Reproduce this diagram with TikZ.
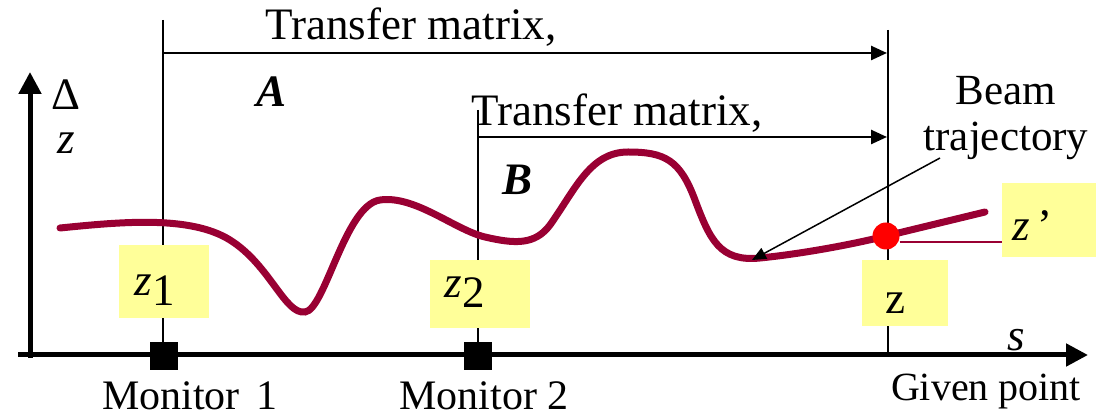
\documentclass[tikz,border=0pt]{standalone}
\usepackage{fontspec}
\setmainfont{Liberation Serif}
\usetikzlibrary{arrows.meta}
\definecolor{traj}{HTML}{990033}
\definecolor{lab}{HTML}{FFFF99}
\tikzset{
  axis/.style={line width=5pt,-{Triangle[length=22pt,width=22pt]}},
  guide/.style={line width=1.2pt},
  marr/.style={line width=2.5pt,-{Triangle[length=16pt,width=14pt]}},
  txt/.style={font=\fontsize{45}{48}\selectfont,inner sep=0pt},
  btxt/.style={font=\fontsize{43}{46}\selectfont,inner sep=0pt},
  stxt/.style={font=\fontsize{42}{46}\selectfont,inner sep=0pt},
  mon/.style={fill=black,minimum size=28pt,inner sep=0pt},
}
\begin{document}
\begin{tikzpicture}[x=1pt,y=-1pt]
\useasboundingbox (0,0) rectangle (1096,419);
% guide lines
\coordinate (m1t) at (163,20);
\coordinate (m1b) at (163,355);
\coordinate (m2t) at (478,110);
\coordinate (m2b) at (478,355);
\coordinate (gt) at (888,30);
\coordinate (gb) at (888,355);
\draw[guide] (m1t) -- (m1b);
\draw[guide] (m2t) -- (m2b);
\draw[guide] (gt) -- (gb);
% yellow boxes
\fill[lab] (119,245) rectangle (209,318);
\fill[lab] (430,260) rectangle (530,328);
\fill[lab] (862,260) rectangle (948,326);
\fill[lab] (1002,183) rectangle (1096,257);
% axes
\coordinate (yt) at (30,72);
\coordinate (yb) at (30,358);
\coordinate (xl) at (18,355);
\coordinate (xr) at (1088,355);
\draw[axis] (yb) -- (yt);
\draw[axis] (xl) -- (xr);
% monitors
\node[mon] (mon1) at (164,356) {};
\node[mon] (mon2) at (478,356) {};
% transfer arrows
\coordinate (a1) at (163,53);
\coordinate (a2) at (887,53);
\coordinate (b1) at (478,137);
\coordinate (b2) at (887,137);
\draw[marr] (a1) -- (a2);
\draw[marr] (b1) -- (b2);
\node[txt] (tA) at (411,27) {Transfer matrix,};
\node[txt] (A) at (272,92) {\textbf{\textit{A}}};
\node[txt] (tB) at (617,113) {Transfer matrix,};
\node[txt] (B) at (518,180) {\textbf{\textit{B}}};
% trajectory
\draw[traj,line width=7pt,line cap=round]
 (60,228) .. controls (120,222) and (190,215) .. (230,240)
 .. controls (270,265) and (285,315) .. (305,312)
 .. controls (325,310) and (345,205) .. (380,200)
 .. controls (415,195) and (455,230) .. (485,237)
 .. controls (515,244) and (535,245) .. (550,225)
 .. controls (575,190) and (590,152) .. (628,152)
 .. controls (665,152) and (680,160) .. (695,200)
 .. controls (710,240) and (720,262) .. (760,258)
 .. controls (800,254) and (850,245) .. (886,236)
 -- (985,212);
% red dot and thin line to z'
\node[circle,fill=red,minimum size=27pt,inner sep=0pt] (dot) at (886,236) {};
\coordinate (zpl) at (1002,242);
\draw[traj,line width=1.2pt] (dot.east |- zpl) -- (zpl);
% beam trajectory label and arrow
\node[btxt,align=center] (bt) at (1006,118) {Beam\\trajectory};
\coordinate (bts) at (940,158);
\coordinate (bte) at (752,260);
\draw[line width=1.5pt,-{Triangle[length=14pt,width=12pt]}] (bts) -- (bte);
% labels
\node[txt] (del) at (66,95) {Δ};
\node[txt] (zax) at (66,143) {\textit{z}};
\node[txt] (z1) at (155,290) {\textit{z}\raisebox{-10pt}{1}};
\node[txt] (z2) at (465,292) {\textit{z}\raisebox{-10pt}{2}};
\node[txt] (zg) at (895,303) {z};
\node[txt] (zp) at (1032,226) {\textit{z}\,’};
\node[txt] (s) at (1016,340) {\textit{s}};
\node[stxt] (l1) at (190,396) {Monitor\hspace{0.4em}1};
\node[stxt] (l2) at (484,396) {Monitor 2};
\node[font=\fontsize{40}{44}\selectfont,inner sep=0pt] (l3) at (986,392) {Given point};
\end{tikzpicture}
\end{document}
